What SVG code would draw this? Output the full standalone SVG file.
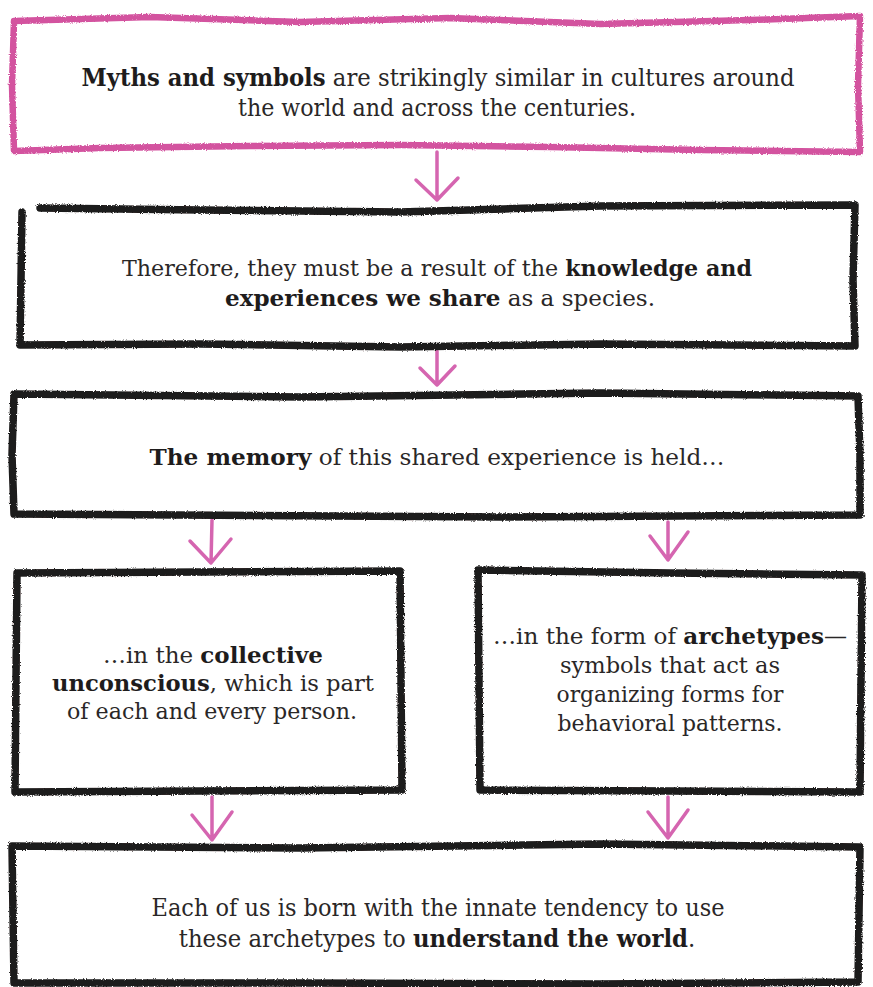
<svg xmlns="http://www.w3.org/2000/svg" width="873" height="987" viewBox="0 0 873 987">
<style>
.bx{fill:none;stroke:#1c1a1a;stroke-width:7.5;stroke-linejoin:round;stroke-linecap:round;filter:url(#rough)}
.pk{fill:none;stroke:#d3529f;stroke-width:6.5;stroke-linejoin:round;stroke-linecap:round;filter:url(#rough)}
.ar{fill:none;stroke:#d565b0;stroke-width:3.5;stroke-linecap:round;stroke-linejoin:round}
text{font-family:"DejaVu Serif","Liberation Serif",serif;font-size:23px;fill:#2a2727;text-anchor:middle}
.c{font-size:24px}
.b{font-weight:bold;fill:#1e1c1c}
</style>
<defs>
<filter id="rough" x="-5%" y="-5%" width="110%" height="110%">
<feTurbulence type="fractalNoise" baseFrequency="0.9" numOctaves="2" seed="3" result="n"/>
<feDisplacementMap in="SourceGraphic" in2="n" scale="3"/>
</filter>
</defs>
<rect width="873" height="987" fill="#ffffff"/>
<g id="connectors">
<path class="ar" d="M437,152 L437,200 M416,180 L437,200 L458,178"/>
<path class="ar" d="M437,351 L437,385 M420,368 L437,385 L455,366"/>
<path class="ar" d="M212,520 L211,563 M190,541 L211,563 L231,539"/>
<path class="ar" d="M668,522 L668,560 M650,536 L668,560 L688,532"/>
<path class="ar" d="M212,797 L212,840 M192,815 L212,840 L232,812"/>
<path class="ar" d="M668,797 L668,838 M648,812 L668,838 L688,810"/>
</g>
<g id="box1">
<path class="pk" d="M14,21 L150,17 L300,22 L450,18 L600,24 L750,20 L860,16 L858,85 L860,152 L700,150 L550,147 L400,145 L250,146 L100,148 L14,151 L12,85 Z"/>
<text class="c" x="438" y="86" textLength="713" lengthAdjust="spacingAndGlyphs"><tspan class="b">Myths and symbols</tspan> are strikingly similar in cultures around</text>
<text class="c" x="437" y="116" textLength="398" lengthAdjust="spacingAndGlyphs">the world and across the centuries.</text>
</g>
<g id="box2">
<path class="bx" d="M40,208 L200,210 L400,212 L600,206 L855,205 L853,280 L855,346 L600,344 L400,347 L200,344 L20,345 L21,280 L22,212"/>
<text x="437" y="276" textLength="630" lengthAdjust="spacingAndGlyphs">Therefore, they must be a result of the <tspan class="b">knowledge and</tspan></text>
<text x="440" y="306" textLength="430" lengthAdjust="spacingAndGlyphs"><tspan class="b">experiences we share</tspan> as a species.</text>
</g>
<g id="box3">
<path class="bx" d="M14,394 L300,397 L600,393 L858,396 L860,455 L860,515 L500,517 L14,514 L12,455 Z"/>
<text x="437" y="465" textLength="575" lengthAdjust="spacingAndGlyphs"><tspan class="b">The memory</tspan> of this shared experience is held…</text>
</g>
<g id="box4a">
<path class="bx" d="M17,573 L200,572 L400,571 L401,680 L402,790 L200,791 L15,792 L16,680 Z"/>
<text x="213" y="663" textLength="220" lengthAdjust="spacingAndGlyphs">…in the <tspan class="b">collective</tspan></text>
<text x="213" y="691" textLength="322" lengthAdjust="spacingAndGlyphs"><tspan class="b">unconscious</tspan>, which is part</text>
<text x="212" y="719" textLength="290" lengthAdjust="spacingAndGlyphs">of each and every person.</text>
</g>
<g id="box4b">
<path class="bx" d="M478,570 L670,573 L862,575 L861,680 L860,792 L670,791 L480,790 L479,680 Z"/>
<text x="670" y="644" textLength="354" lengthAdjust="spacingAndGlyphs">…in the form of <tspan class="b">archetypes</tspan>—</text>
<text x="670" y="673" textLength="220" lengthAdjust="spacingAndGlyphs">symbols that act as</text>
<text x="670" y="702" textLength="227" lengthAdjust="spacingAndGlyphs">organizing forms for</text>
<text x="670" y="731" textLength="225" lengthAdjust="spacingAndGlyphs">behavioral patterns.</text>
</g>
<g id="box5">
<path class="bx" d="M12,846 L300,848 L600,844 L860,847 L859,915 L858,982 L600,984 L300,983 L14,983 L13,915 Z"/>
<text class="c" x="438" y="916" textLength="573" lengthAdjust="spacingAndGlyphs">Each of us is born with the innate tendency to use</text>
<text class="c" x="0" y="0" transform="translate(437,947) scale(0.95,1)">these archetypes to <tspan class="b">understand the world</tspan>.</text>
</g>
</svg>
